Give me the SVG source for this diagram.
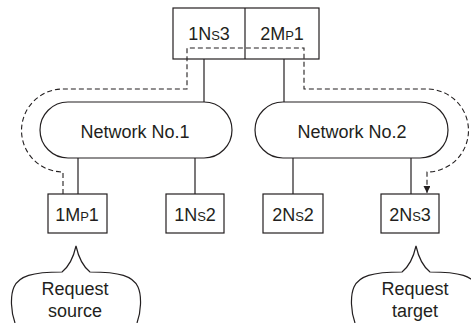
<svg xmlns="http://www.w3.org/2000/svg" width="471" height="323" viewBox="0 0 471 323">
<style>
  .ln{fill:none;stroke:#231f20;stroke-width:1.2}
  .box{fill:#fff;stroke:#231f20;stroke-width:1.2}
  .dash{fill:none;stroke:#231f20;stroke-width:1.1;stroke-dasharray:5 3}
  .t{font-family:"Liberation Sans",Arial,sans-serif;font-size:18px;fill:#231f20;text-anchor:middle}
  .s{font-size:13px}
</style>
<defs>
  <marker id="arr" viewBox="0 0 10 10" refX="10" refY="5" markerWidth="10" markerHeight="7" markerUnits="userSpaceOnUse" orient="auto">
    <path d="M0,0 L10,5 L0,10 z" fill="#231f20"/>
  </marker>
</defs>
<rect width="471" height="323" fill="#fff"/>
<g id="connectors">
  <line class="ln" x1="204" y1="59" x2="204" y2="102"/>
  <line class="ln" x1="284" y1="59" x2="284" y2="102"/>
  <line class="ln" x1="78" y1="158" x2="78" y2="194"/>
  <line class="ln" x1="195" y1="158" x2="195" y2="194"/>
  <line class="ln" x1="293" y1="158" x2="293" y2="194"/>
  <line class="ln" x1="411" y1="158" x2="411" y2="194"/>
</g>
<g id="top-station">
  <rect class="box" x="173" y="8" width="146" height="51"/>
  <line class="ln" x1="245" y1="8" x2="245" y2="59"/>
  <text class="t" x="209" y="40">1N<tspan class="s">S</tspan>3</text>
  <text class="t" x="282" y="40">2M<tspan class="s">P</tspan>1</text>
</g>
<g id="network1">
  <rect class="box" x="40" y="102" width="192" height="56" rx="28" ry="28"/>
  <text class="t" x="135" y="138">Network No.1</text>
</g>
<g id="network2">
  <rect class="box" x="255" y="102" width="193" height="56" rx="28" ry="28"/>
  <text class="t" x="352" y="138">Network No.2</text>
</g>
<g id="n1MP1">
  <rect class="box" x="48" y="194" width="59" height="39"/>
  <text class="t" x="77" y="221">1M<tspan class="s">P</tspan>1</text>
</g>
<g id="n1NS2">
  <rect class="box" x="166" y="194" width="58" height="39"/>
  <text class="t" x="195" y="221">1N<tspan class="s">S</tspan>2</text>
</g>
<g id="n2NS2">
  <rect class="box" x="263" y="194" width="60" height="39"/>
  <text class="t" x="293" y="221">2N<tspan class="s">S</tspan>2</text>
</g>
<g id="n2NS3">
  <rect class="box" x="381" y="194" width="58" height="39"/>
  <text class="t" x="410" y="221">2N<tspan class="s">S</tspan>3</text>
</g>
<g id="route">
  <path class="dash" d="M63,194 V172 A41.5,41.5 0 0 1 63,89 H187 V48 H304 V89 H427 A41.5,41.5 0 0 1 427,172 V193" marker-end="url(#arr)"/>
</g>
<g id="callout-source">
  <path class="ln" d="M15,323 C11,312 10,296 14,287 C19,276 32,272 62,272 Q72,264 76,246 Q80,264 90,272 C120,272 133,276 138,287 C142,296 141,312 137,323"/>
  <text class="t" x="75" y="295">Request</text>
  <text class="t" x="75" y="317">source</text>
</g>
<g id="callout-target">
  <path class="ln" d="M355,323 C351,312 350,296 354,287 C359,276 372,272 402,272 Q412,264 416,246 Q420,264 430,272 C460,272 473,276 478,287 C482,296 481,312 477,323"/>
  <text class="t" x="415" y="295">Request</text>
  <text class="t" x="415" y="317">target</text>
</g>
</svg>
